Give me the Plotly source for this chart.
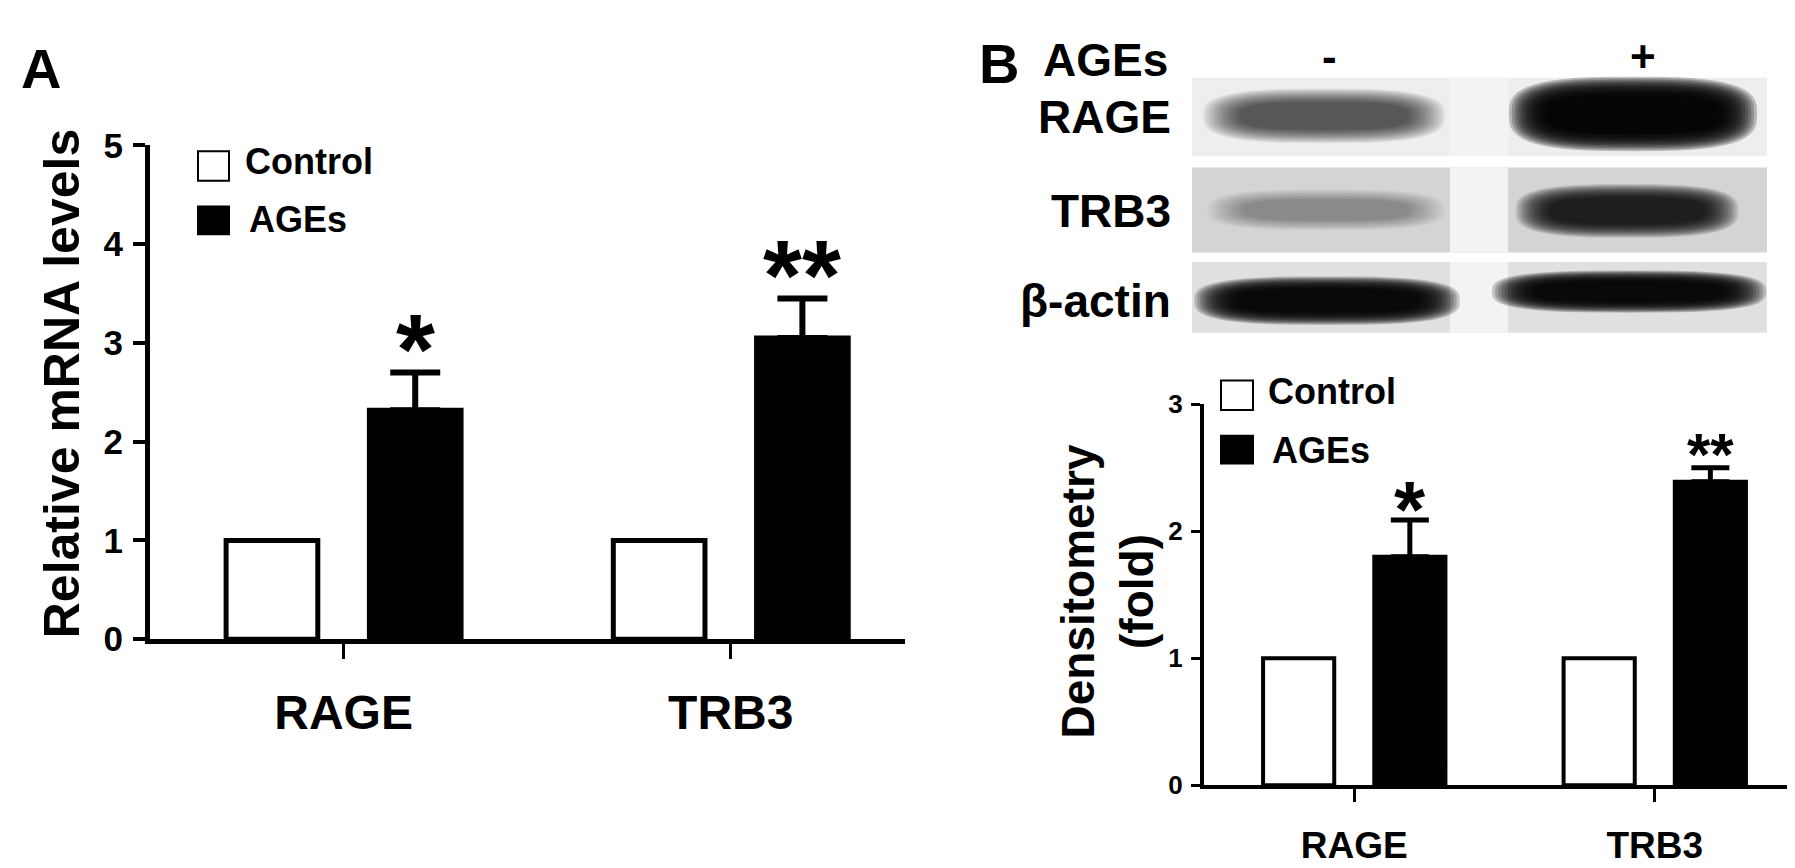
import math
import plotly.graph_objects as go

# ---- data ----
genes = ["RAGE", "TRB3"]

# panel A: relative mRNA levels
mrna_control = [1.0, 1.0]
mrna_ages = [2.32, 3.05]
mrna_ages_sem = [0.38, 0.40]
mrna_sig = ["*", "**"]
mrna_ticks = [0, 1, 2, 3, 4, 5]

# panel B: densitometry (fold)
dens_control = [1.0, 1.0]
dens_ages = [1.80, 2.39]
dens_ages_sem = [0.29, 0.11]
dens_sig = ["*", "**"]
dens_ticks = [0, 1, 2, 3]

# western blot (band darkness 0..1 per lane)
blot_proteins = ["RAGE", "TRB3", "β-actin"]
blot_lanes = ["-", "+"]
blot_darkness = [
    [0.62, 0.97],  # RAGE
    [0.33, 0.85],  # TRB3
    [0.95, 0.95],  # beta-actin
]

# ---- layout helpers ----
W, H = 1795, 868
FONT = "Liberation Sans, Arial, Helvetica, sans-serif"
BARGAP = 0.26
BARGROUPGAP = 0.36


def px(x):
    return x / W


def py(y):
    return 1 - y / H


def bold(size):
    return dict(family=FONT, size=size, color="black", weight="bold")


fig = go.Figure()


def add_bars(ctrl, ages, sem, xa, ya, line_w, err_w, cap):
    fig.add_trace(go.Bar(
        x=genes, y=ctrl, name="Control", xaxis=xa, yaxis=ya,
        marker=dict(color="white", line=dict(color="black", width=line_w)),
        showlegend=False,
    ))
    fig.add_trace(go.Bar(
        x=genes, y=ages, name="AGEs", xaxis=xa, yaxis=ya,
        marker=dict(color="black", line=dict(color="black", width=line_w)),
        error_y=dict(type="data", array=sem, arrayminus=[0] * len(sem),
                     symmetric=False, color="black", thickness=err_w, width=cap),
        showlegend=False,
    ))


add_bars(mrna_control, mrna_ages, mrna_ages_sem, "x", "y", 5, 6, 25)
add_bars(dens_control, dens_ages, dens_ages_sem, "x2", "y2", 4, 5, 19)


def xaxis_cfg(dom, anchor, lw, tick_font, ticklen, standoff):
    return dict(domain=dom, anchor=anchor, type="category", range=[-0.5, 1.45],
                showline=True, linewidth=lw, linecolor="black",
                ticks="outside", ticklen=ticklen, tickwidth=3, tickcolor="black",
                tickfont=bold(tick_font), ticklabelstandoff=standoff,
                showgrid=False, zeroline=False)


def yaxis_cfg(dom, anchor, rng, tickvals, lw, tick_font, ticklen, standoff):
    return dict(domain=dom, anchor=anchor, range=rng, tickvals=tickvals,
                showline=True, linewidth=lw, linecolor="black",
                ticks="outside", ticklen=ticklen, tickwidth=lw - 1, tickcolor="black",
                tickfont=bold(tick_font), ticklabelstandoff=standoff,
                showgrid=False, zeroline=False)


xa = xaxis_cfg([px(142), px(897)], "y", 5, 48, 15, 12)
xb = xaxis_cfg([px(1196), px(1782)], "y2", 4, 37, 13, 11)
ya = yaxis_cfg([py(640), py(123)], "x", [0, 5], mrna_ticks, 5, 35, 12, 3)
yb = yaxis_cfg([py(793), py(394)], "x2", [0, 3], dens_ticks, 4, 26, 9, 3)

annotations = []
shapes = []


def label(text, x, y, size, xanchor="center", angle=0):
    annotations.append(dict(text=text, x=px(x), y=py(y), xref="paper", yref="paper",
                            xanchor=xanchor, yanchor="middle", showarrow=False,
                            textangle=angle, font=bold(size)))


def rect(x0, y0, x1, y1, fill, line_color=None, line_w=0):
    shapes.append(dict(type="rect", xref="paper", yref="paper",
                       x0=px(x0), x1=px(x1), y0=py(y1), y1=py(y0),
                       fillcolor=fill, line=dict(color=line_color or fill, width=line_w)))


# significance stars above AGEs bars
offset = (1 - BARGAP) / 4


def add_stars(vals, sem, sig, xref, yref, gap, sizes):
    for i, s in enumerate(sig):
        size = sizes[s]
        annotations.append(dict(text=s, x=i + offset, y=vals[i] + sem[i],
                                xref=xref, yref=yref, xanchor="center", yanchor="middle",
                                showarrow=False, font=bold(size),
                                yshift=gap - 0.14 * size))


add_stars(mrna_ages, mrna_ages_sem, mrna_sig, "x", "y", 38, {"*": 100, "**": 100})
add_stars(dens_ages, dens_ages_sem, dens_sig, "x2", "y2", 22, {"*": 80, "**": 60})

# panel letters and axis titles
label("A", 33, 42, 56)
label("B", 991, 37, 56)
label("Relative mRNA levels", 54, 372, 50, angle=-90)
label("Densitometry<br>(fold)", 1100, 590, 46, angle=-90)

# legends
legend_specs = [
    ((190, 221), [(129, 160), (187, 216)], 235, [140, 201]),
    ((1213, 1245), [(369, 400), (427, 456)], 1258, [381, 442]),
]
for sq_x, sq_y, tx_x, tx_y in legend_specs:
    rect(sq_x[0], sq_y[0][0], sq_x[1], sq_y[0][1], "white", "black", 2)
    rect(sq_x[0], sq_y[1][0], sq_x[1], sq_y[1][1], "black", "black", 2)
    label("Control", tx_x, tx_y[0], 36, xanchor="left")
    label("AGEs", tx_x + 4, tx_y[1], 36, xanchor="left")


# western blot, drawn as soft rounded bands on grey strips
def band_path(cx, cy, hw, hh, n=3, m=56):
    pts = []
    for i in range(m):
        t = 2 * math.pi * i / m
        c, s = math.cos(t), math.sin(t)
        x = cx + hw * math.copysign(abs(c) ** (2 / n), c)
        y = cy + hh * math.copysign(abs(s) ** (2 / n), s)
        pts.append(f"{px(x):.5f},{py(y):.5f}")
    return "M " + " L ".join(pts) + " Z"


strip_x = (1184, 1759)
strip_y = [(52, 134), (146, 235), (245, 319)]
strip_fill = ["#eeeeee", "#d4d4d4", "#e0e0e0"]
lane_gap_x = (1442, 1500)
band_boxes = [
    [(1204, 70, 1428, 114), (1510, 60, 1740, 120)],
    [(1208, 174, 1428, 207), (1516, 170, 1722, 213)],
    [(1196, 266, 1442, 305), (1494, 259, 1748, 293)],
]
lane_x = [1321, 1635]
label_y = [93, 192, 286]

for r, prot in enumerate(blot_proteins):
    y0, y1 = strip_y[r]
    rect(strip_x[0], y0, strip_x[1], y1, strip_fill[r])
    rect(lane_gap_x[0], y0, lane_gap_x[1], y1, "#f3f3f3")
    label(prot, 1165, label_y[r], 46, xanchor="right")
    for l in range(len(blot_lanes)):
        bx0, by0, bx1, by1 = band_boxes[r][l]
        d = blot_darkness[r][l]
        n = 14
        a = 1 - (1 - d) ** (1 / n)
        cx, cy = (bx0 + bx1) / 2, (by0 + by1) / 2
        hw, hh = (bx1 - bx0) / 2, (by1 - by0) / 2
        for k in range(n):
            shapes.append(dict(type="path", xref="paper", yref="paper",
                               path=band_path(cx, cy, hw * (1.08 - 0.025 * k),
                                              hh * (1.30 - 0.05 * k)),
                               fillcolor="black", opacity=a, line=dict(width=0)))

label("AGEs", 1162, 34, 46, xanchor="right")
for l, lane in enumerate(blot_lanes):
    label(lane, lane_x[l], 30, 44)

fig.update_layout(
    width=W, height=H, autosize=False,
    margin=dict(l=0, r=0, t=0, b=0),
    paper_bgcolor="white", plot_bgcolor="white",
    font=dict(family=FONT, color="black"),
    barmode="group", bargap=BARGAP, bargroupgap=BARGROUPGAP,
    xaxis=xa, yaxis=ya, xaxis2=xb, yaxis2=yb,
    annotations=annotations, shapes=shapes,
    showlegend=False,
)

fig.write_html("out.html")
